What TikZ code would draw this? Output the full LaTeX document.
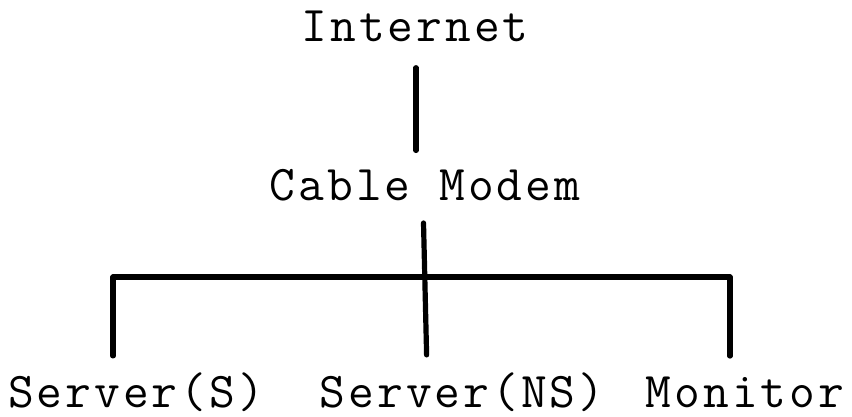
\documentclass[tikz,border=0pt]{standalone}
\usepackage{fontspec}
\newfontfamily\devfont{Latin Modern Mono}[LetterSpace=6]
\usetikzlibrary{positioning}

\begin{document}
\begin{tikzpicture}[x=0.5pt,y=-0.5pt]
    \tikzstyle{link}=[line width=2.6pt,line cap=round,line join=round,draw=black]
    \tikzstyle{device}=[
      inner sep=0pt,
      anchor=base,
      font=\devfont\fontsize{25}{29}\selectfont,
    ]

    \useasboundingbox (0,0) rectangle (852,417);

    % devices
    {
      \node[device] (internet) at (415,42) {Internet};
      \node[device] (modem) at (425,200) {Cable Modem};

      \node[device] (serverS) at (136,407) {Server(S)};
      \node[device] (serverNS) at (462,407) {Server(NS)};
      \node[device] (monitor) at (745,407) {Monitor};
    }

    % bus
    {
      \coordinate (busLeft) at (113,277);
      \coordinate (busRight) at (730,277);
    }

    % links
    {
      \draw[link, shorten <=12.5pt, shorten >=9pt] ([xshift=0.5pt] internet.south) -- ([xshift=0.5pt] internet.south |- modem.north);
      \draw[link, shorten <=11pt, shorten >=8.5pt] ([xshift=-1pt] modem.south) -- ([xshift=1pt] modem.south |- serverNS.north);
      \draw[link] (busLeft) -- (busRight);
      \draw[link, shorten >=8pt] (busLeft) -- (busLeft |- serverS.north);
      \draw[link, shorten >=10pt] (busRight) -- (busRight |- monitor.north);
    }
\end{tikzpicture}
\end{document}
